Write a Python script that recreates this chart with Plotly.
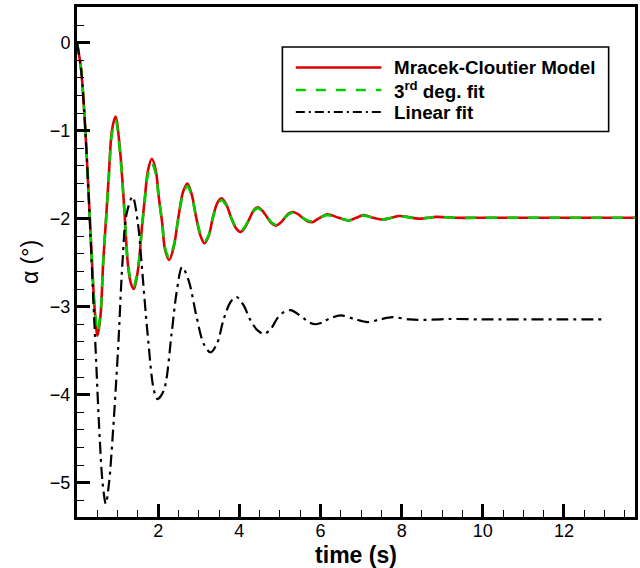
import plotly.graph_objects as go

# ---------------- data ----------------
t_model = [0, 0.1, 0.2, 0.3, 0.37, 0.43, 0.505, 0.58, 0.645, 0.73, 0.785, 0.86, 0.95,
           1.06, 1.16, 1.25, 1.32, 1.40, 1.46, 1.525, 1.60, 1.67, 1.75, 1.845,
           1.94, 2.02, 2.10, 2.165, 2.27, 2.38, 2.50, 2.61, 2.72, 2.83, 2.93, 3.04,
           3.14, 3.25, 3.35, 3.46, 3.56, 3.68, 3.80, 3.92, 4.03, 4.14, 4.25, 4.36,
           4.46, 4.57, 4.68, 4.79, 4.90, 5.01, 5.12, 5.22, 5.33, 5.45, 5.56, 5.68,
           5.80, 5.98, 6.17, 6.45, 6.70, 6.88, 7.06, 7.30, 7.53, 7.75, 7.94, 8.2,
           8.4, 8.65, 8.85, 9.3, 10.0, 11.0, 12.0, 13.0, 13.9]
a_model = [0, -0.30, -0.95, -1.85, -2.5, -3.0, -3.33, -3.1, -2.5, -1.9, -1.5, -1.0, -0.84,
           -1.22, -1.85, -2.5, -2.72, -2.80, -2.7, -2.5, -2.1, -1.77, -1.45, -1.32,
           -1.45, -1.77, -2.05, -2.34, -2.47, -2.33, -1.98, -1.70, -1.60, -1.73, -1.97, -2.19,
           -2.28, -2.19, -1.98, -1.82, -1.77, -1.84, -1.99, -2.11, -2.15, -2.10, -2.00, -1.90,
           -1.87, -1.91, -1.98, -2.05, -2.08, -2.05, -1.99, -1.94, -1.925, -1.95, -1.99, -2.03,
           -2.04, -1.99, -1.95, -1.99, -2.02, -1.99, -1.96, -1.99, -2.01, -1.99, -1.97, -1.985,
           -2.0, -1.99, -1.98, -1.99, -1.99, -1.99, -1.99, -1.99, -1.99]

t_fit3 = t_model
a_fit3 = [0, -0.30, -0.95, -1.85, -2.5, -2.98, -3.29, -3.07, -2.5, -1.92, -1.53, -1.04, -0.88,
          -1.25, -1.86, -2.48, -2.69, -2.77, -2.67, -2.48, -2.1, -1.8, -1.49, -1.37,
          -1.49, -1.79, -2.05, -2.32, -2.45, -2.31, -1.99, -1.73, -1.63, -1.75, -1.97, -2.17,
          -2.26, -2.18, -1.99, -1.84, -1.79, -1.85, -1.99, -2.10, -2.14, -2.09, -2.00, -1.91,
          -1.88, -1.92, -1.98, -2.04, -2.07, -2.04, -1.99, -1.95, -1.93, -1.95, -1.99, -2.02,
          -2.03, -1.99, -1.96, -1.99, -2.02, -1.99, -1.965, -1.99, -2.01, -1.99, -1.975, -1.985,
          -2.0, -1.99, -1.98, -1.99, -1.99, -1.99, -1.99, -1.99, -1.99]

t_lin = [0, 0.1, 0.2, 0.3, 0.4, 0.46, 0.56, 0.63, 0.71, 0.79, 0.875, 1.01, 1.12, 1.22,
         1.37, 1.50, 1.59, 1.74, 1.895, 1.985, 2.14, 2.33, 2.45, 2.59, 2.75, 2.94,
         3.12, 3.29, 3.45, 3.61, 3.78, 3.93, 4.10, 4.27, 4.45, 4.61, 4.78, 4.94,
         5.10, 5.27, 5.43, 5.58, 5.73, 5.88, 6.05, 6.2, 6.5, 6.83, 7.16, 7.47, 7.77,
         8.2, 8.6, 9.2, 10.0, 11.0, 12.0, 13.0]
a_lin = [0, -0.30, -0.95, -1.85, -2.9, -3.5, -4.5, -5.0, -5.24, -5.0, -4.5, -3.5, -2.5, -1.95,
         -1.75, -2.05, -2.5, -3.31, -3.95, -4.05, -3.95, -3.31, -2.85, -2.55, -2.7, -3.1,
         -3.42, -3.52, -3.42, -3.15, -2.95, -2.89, -2.98, -3.15, -3.27, -3.31, -3.25, -3.13,
         -3.06, -3.04, -3.08, -3.13, -3.18, -3.20, -3.18, -3.14, -3.10, -3.14, -3.175, -3.145, -3.12,
         -3.145, -3.15, -3.14, -3.145, -3.145, -3.145, -3.145]

x_ticks = [2, 4, 6, 8, 10, 12]
y_ticks = [0, -1, -2, -3, -4, -5]
legend_names = ["Mracek-Cloutier Model", "3<sup>rd</sup> deg. fit", "Linear fit"]

# ---------------- figure ----------------
W, H = 640, 568
ML, MR, MT, MB = 77, 2, 7, 51
FONT = "Liberation Sans, Arial, sans-serif"

fig = go.Figure()
fig.add_trace(go.Scatter(x=t_model, y=a_model, mode="lines", line_shape="spline",
                         line=dict(color="#dd0000", width=2.6, smoothing=0.9),
                         name=legend_names[0], showlegend=False))
fig.add_trace(go.Scatter(x=t_fit3, y=a_fit3, mode="lines", line_shape="spline",
                         line=dict(color="#00cc00", width=2.6, dash="11px,10px", smoothing=0.9),
                         name="3rd deg. fit", showlegend=False))
fig.add_trace(go.Scatter(x=t_lin, y=a_lin, mode="lines", line_shape="spline",
                         line=dict(color="black", width=2.2, dash="12px,5px,3px,5px", smoothing=0.9),
                         name=legend_names[2], showlegend=False))

# manual legend box (paper coordinates converted from pixel layout)
pw, ph = W - ML - MR, H - MT - MB
def px(x):
    return (x - ML) / pw
def py(y):
    return (H - MB - y) / ph

fig.add_shape(type="rect", xref="paper", yref="paper",
              x0=px(283.5), x1=px(611.5), y0=py(131.5), y1=py(47),
              line=dict(color="black", width=1.6), fillcolor="white", layer="above")
leg_styles = [dict(color="#dd0000", width=2.4),
              dict(color="#00cc00", width=2.4, dash="10px,10px"),
              dict(color="black", width=2.2, dash="9px,4px,2px,4px")]
rows_y = [67.5, 90, 112]
for name, st, yy in zip(legend_names, leg_styles, rows_y):
    fig.add_shape(type="line", xref="paper", yref="paper",
                  x0=px(297), x1=px(383), y0=py(yy), y1=py(yy), line=st, layer="above")
    fig.add_annotation(xref="paper", yref="paper", x=px(394), y=py(yy),
                       xanchor="left", yanchor="middle", showarrow=False,
                       text="<b>%s</b>" % name,
                       font=dict(family=FONT, size=18.8, color="black"))

fig.update_layout(
    width=W, height=H,
    margin=dict(l=ML, r=MR, t=MT, b=MB),
    paper_bgcolor="white", plot_bgcolor="white",
    font=dict(family=FONT, size=18, color="black"),
    showlegend=False,
)
fig.update_xaxes(
    range=[0, 13.75], tickmode="array", tickvals=x_ticks,
    ticks="inside", ticklen=13, tickwidth=2.5, tickcolor="black",
    minor=dict(ticks="inside", ticklen=7, tickwidth=1.2, tickcolor="black", dtick=0.5, tick0=0),
    showline=True, linewidth=3, linecolor="black", mirror=True,
    showgrid=False, zeroline=False, ticklabelstandoff=-5,
    tickfont=dict(family=FONT, size=18),
    title=dict(text="<b>time (s)</b>", font=dict(family=FONT, size=23), standoff=8),
)
fig.update_yaxes(
    range=[-5.39, 0.405], tickmode="array", tickvals=y_ticks,
    ticks="inside", ticklen=13, tickwidth=2.5, tickcolor="black",
    minor=dict(ticks="inside", ticklen=7, tickwidth=1.2, tickcolor="black", dtick=0.2, tick0=0),
    showline=True, linewidth=3, linecolor="black", mirror=True,
    showgrid=False, zeroline=False,
    tickfont=dict(family=FONT, size=18),
    title=dict(text="α (°)", font=dict(family=FONT, size=23), standoff=5),
)

fig.write_html("out.html")
